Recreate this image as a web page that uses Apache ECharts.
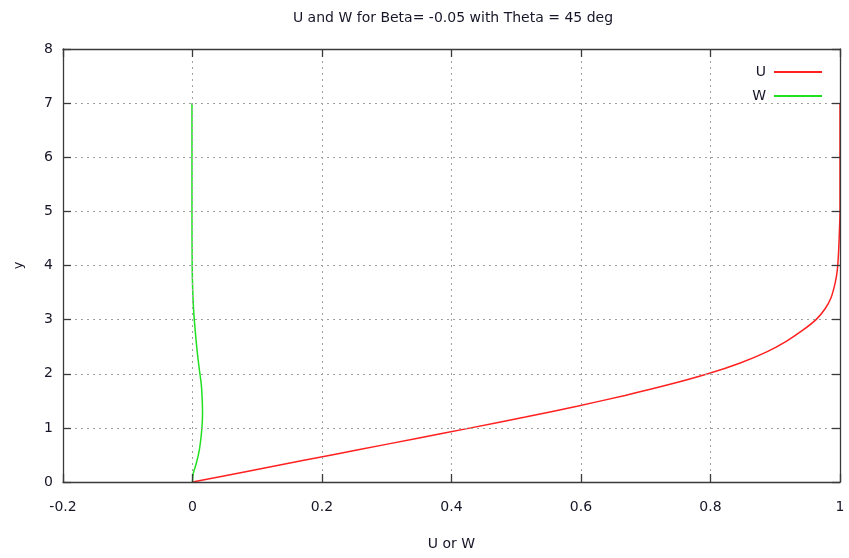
<!DOCTYPE html>
<html>
<head>
<meta charset="utf-8">
<script src="https://cdn.jsdelivr.net/npm/echarts@6/dist/echarts.min.js"></script>
<style>html,body{margin:0;padding:0;background:#fff}#c{width:849px;height:558px}</style>
</head>
<body>
<div id="c"></div>
<script>
var titleText = 'U and W for Beta= -0.05 with Theta = 45 deg';
var xName = 'U or W';
var yName = 'y';
var seriesNames = ['U', 'W'];
// U profile: y positions and U values
var uY = [0, 0.2, 0.4, 0.6, 0.8, 1.0, 1.2, 1.4, 1.6, 1.8, 2.0, 2.2, 2.4, 2.6, 2.8, 3.0, 3.2, 3.4, 3.6, 3.8, 4.0, 4.3, 4.6, 5.0, 6.0, 7.0];
var uV = [0, 0.086, 0.172, 0.258, 0.344, 0.43, 0.514, 0.594, 0.668, 0.736, 0.796, 0.846, 0.886, 0.917, 0.942, 0.963, 0.977, 0.986, 0.991, 0.9945, 0.9965, 0.998, 0.999, 1.0, 1.0, 1.0];
// W profile
var wY = [0, 0.16, 0.35, 0.59, 0.84, 1.08, 1.27, 1.52, 1.8, 2.13, 2.44, 2.81, 3.18, 3.55, 4.0, 5.0, 6.0, 7.0];
var wV = [0, 0.0012, 0.0060, 0.0105, 0.0133, 0.0150, 0.0155, 0.0150, 0.0136, 0.0100, 0.0070, 0.0041, 0.0017, 0.0003, -0.0005, -0.0008, -0.0008, -0.0008];
var xTicks = {min: -0.2, max: 1, interval: 0.2};
var yTicks = {min: 0, max: 8, interval: 1};

function pairs(xs, ys) { return xs.map(function (v, i) { return [v, ys[i]]; }); }

var font = 'DejaVu Sans';
var axisCol = '#3a3a3a';
var textCol = '#161628';
var chart = echarts.init(document.getElementById('c'));
var baseX = {
  type: 'value', min: xTicks.min, max: xTicks.max, interval: xTicks.interval,
  axisLine: {show: true, onZero: false, lineStyle: {color: axisCol, width: 1.3}},
  axisTick: {show: true, inside: true, length: 8, lineStyle: {color: axisCol, width: 1.3}},
  z: 5
};
var baseY = {
  type: 'value', min: yTicks.min, max: yTicks.max, interval: yTicks.interval,
  axisLine: {show: true, onZero: false, lineStyle: {color: axisCol, width: 1.3}},
  axisTick: {show: true, inside: true, length: 8, lineStyle: {color: axisCol, width: 1.3}},
  z: 5
};
chart.setOption({
  animation: false,
  backgroundColor: '#fff',
  title: {text: titleText, left: 448, top: 6, textAlign: 'center',
    textStyle: {fontFamily: font, fontSize: 14, fontWeight: 'normal', color: textCol}},
  legend: {
    data: seriesNames, orient: 'vertical', right: 22, top: 60, align: 'right',
    itemWidth: 48, itemHeight: 2, itemGap: 10, icon: 'rect',
    textStyle: {fontFamily: font, fontSize: 14, color: textCol, padding: [0, 3, 0, 0]}
  },
  grid: {left: 63, right: 9, top: 49, bottom: 76},
  xAxis: [
    Object.assign({}, baseX, {
      position: 'bottom', name: xName, nameLocation: 'middle', nameGap: 55,
      nameTextStyle: {fontFamily: font, fontSize: 14, color: textCol},
      axisLabel: {fontFamily: font, fontSize: 14, color: textCol, margin: 18,
        formatter: function (v) { return String(Math.round(v * 10) / 10); }},
      splitLine: {show: true, lineStyle: {color: '#a0a0a0', type: [2, 4], width: 1}}
    }),
    Object.assign({}, baseX, {position: 'top', axisLabel: {show: false}, splitLine: {show: false}})
  ],
  yAxis: [
    Object.assign({}, baseY, {
      position: 'left', name: yName, nameLocation: 'middle', nameGap: 38,
      nameTextStyle: {fontFamily: font, fontSize: 13, color: textCol},
      axisLabel: {fontFamily: font, fontSize: 14, color: textCol, margin: 10},
      splitLine: {show: true, lineStyle: {color: '#a0a0a0', type: [2, 4], width: 1}}
    }),
    Object.assign({}, baseY, {position: 'right', axisLabel: {show: false}, splitLine: {show: false}})
  ],
  series: [
    {name: seriesNames[0], type: 'line', data: pairs(uV, uY), smooth: 0.25, showSymbol: false, symbol: 'none',
      lineStyle: {color: '#ff2020', width: 1.5}, itemStyle: {color: '#ff2020'}, z: 2},
    {name: seriesNames[1], type: 'line', data: pairs(wV, wY), smooth: 0.3, showSymbol: false, symbol: 'none',
      lineStyle: {color: '#20e020', width: 1.5}, itemStyle: {color: '#20e020'}, z: 2}
  ]
});
</script>
</body>
</html>
